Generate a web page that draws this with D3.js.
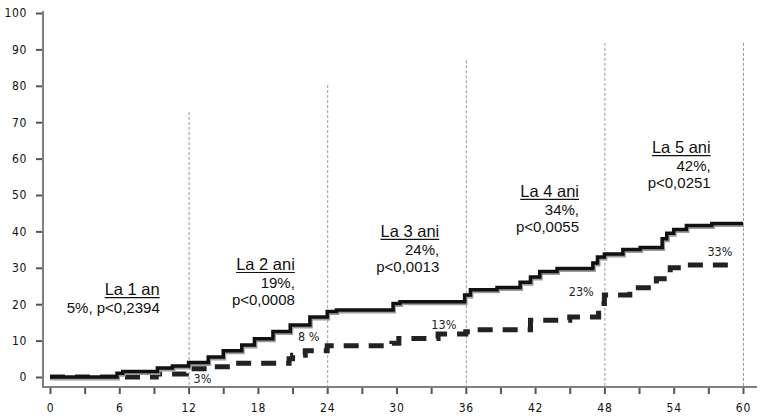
<!DOCTYPE html>
<html>
<head>
<meta charset="utf-8">
<script src="https://cdn.jsdelivr.net/npm/d3@7"></script>
<style>
body { margin: 0; background: #fff; }
.tick text { font-family: "DejaVu Sans Condensed", "DejaVu Sans", sans-serif; font-size: 12px; fill: #111; }
.ann { font-family: "Liberation Sans", Arial, sans-serif; fill: #111; }
.pct { font-family: "DejaVu Sans Condensed", "DejaVu Sans", sans-serif; font-size: 12.5px; fill: #222; }
</style>
</head>
<body>
<script>
// months since start vs cumulative % (step curves)
const solidMonths = [0, 5.8, 6.3, 9.3, 10.6, 12, 13.7, 15, 16.6, 17.7, 19.3, 20.8, 22.5, 24, 24.8, 29.7, 30.3, 35.9, 36.4, 38.7, 40.7, 41.6, 42.4, 43.9, 47, 47.4, 48, 49.6, 51.1, 53, 53.4, 54, 55.1, 57.3, 60];
const solidValues = [0, 1, 1.5, 2.5, 3, 4, 5.5, 7.2, 8.8, 10.5, 12.5, 14.3, 16.5, 18, 18.4, 20.2, 20.7, 22.5, 24, 24.6, 26, 27.5, 29, 29.8, 31.3, 33, 33.8, 35, 35.6, 38, 39.5, 40.5, 41.6, 42.2, 42.2];

const dashedMonths = [0, 9.2, 11.8, 14, 15.8, 20.7, 21, 22.1, 24, 29.6, 30.2, 33.6, 36, 37, 41.6, 45, 47.5, 48, 50.2, 52.5, 53.7, 55, 59];
const dashedValues = [0, 0.8, 2.3, 2.8, 3.8, 5, 6, 7.2, 8.6, 9.3, 10.6, 11.8, 12.4, 13, 15.6, 16.5, 20.2, 22.5, 24.5, 27, 30, 30.8, 30.8];

const xTicks = [0, 3, 6, 9, 12, 15, 18, 21, 24, 27, 30, 33, 36, 39, 42, 45, 48, 51, 54, 57, 60];
const xLabels = [0, 6, 12, 18, 24, 30, 36, 42, 48, 54, 60];
const yTicks = [0, 10, 20, 30, 40, 50, 60, 70, 80, 90, 100];

const refMonths = [12, 24, 36, 48, 60];
const refTops = [72.8, 80.2, 87, 91.8, 91.8];

const annTitles = ["La 1 an", "La 2 ani", "La 3 ani", "La 4 ani", "La 5 ani"];
const annLines = [["5%, p<0,2394"], ["19%,", "p<0,0008"], ["24%,", "p<0,0013"], ["34%,", "p<0,0055"], ["42%,", "p<0,0251"]];

const pctLabels = ["3%", "8 %", "13%", "23%", "33%"];
const pctMonths = [13.2, 22.4, 34.1, 46, 58];
const pctValues = [-0.3, 11, 14.3, 23.4, 34.6];

function main(){
    const width = 763;
    const height = 418;

    const svg = d3.select("body").append("svg")
        .attr("width", width)
        .attr("height", height);

    const x = d3.scaleLinear().domain([0, 60]).range([50, 743]);
    const y = d3.scaleLinear().domain([0, 100]).range([377, 13]);
    const axisY = 387;
    const axisX = 43;

    // reference lines at each year
    svg.selectAll(".ref")
        .data(refMonths)
        .enter().append("line")
        .attr("x1", d => x(d) + 0.5).attr("x2", d => x(d) + 0.5)
        .attr("y1", (d, i) => y(refTops[i]))
        .attr("y2", axisY)
        .attr("stroke", "#9a9a9a")
        .attr("stroke-width", 1)
        .attr("stroke-dasharray", "3,2");

    // axes
    const yAxis = d3.axisLeft(y).tickValues(yTicks).tickSize(7).tickPadding(9).tickSizeOuter(0);
    const gy = svg.append("g").attr("transform", `translate(${axisX},0)`).call(yAxis);
    gy.select(".domain").remove();
    gy.selectAll(".tick line").attr("stroke", "#555").attr("stroke-width", 2);
    gy.selectAll(".tick text").attr("letter-spacing", "0.6px");

    const xAxis = d3.axisBottom(x).tickValues(xTicks).tickSize(7).tickPadding(9).tickSizeOuter(0)
        .tickFormat(d => xLabels.includes(d) ? d : "");
    const gx = svg.append("g").attr("transform", `translate(0,${axisY})`).call(xAxis);
    gx.select(".domain").remove();
    gx.selectAll(".tick line").attr("stroke", "#555").attr("stroke-width", 2);
    gx.selectAll(".tick text").attr("letter-spacing", "0.8px");

    svg.append("line")
        .attr("x1", axisX).attr("x2", axisX).attr("y1", 11).attr("y2", axisY + 1)
        .attr("stroke", "#808080").attr("stroke-width", 2);
    svg.append("line")
        .attr("x1", axisX).attr("x2", 757).attr("y1", axisY).attr("y2", axisY)
        .attr("stroke", "#808080").attr("stroke-width", 2);

    const solid = solidMonths.map((m, i) => [m, solidValues[i]]);
    const dashed = dashedMonths.map((m, i) => [m, dashedValues[i]]);

    const line = d3.line()
        .x(d => x(d[0]))
        .y(d => y(d[1]))
        .curve(d3.curveStepAfter);

    // dashed curve
    svg.append("path")
        .datum(dashed)
        .attr("d", line)
        .attr("fill", "none")
        .attr("stroke", "#222")
        .attr("stroke-width", 5)
        .attr("stroke-dasharray", "15,10");

    // solid curve with grey halo
    svg.append("path")
        .datum(solid)
        .attr("d", line)
        .attr("transform", "translate(1,1.5)")
        .attr("fill", "none")
        .attr("stroke", "#9c9c9c")
        .attr("stroke-width", 4);
    svg.append("path")
        .datum(solid)
        .attr("d", line)
        .attr("fill", "none")
        .attr("stroke", "#111")
        .attr("stroke-width", 3.5);

    // yearly annotations, right aligned
    const annMonth = [9.5, 21.2, 33.7, 45.8, 57.2];
    const annValue = [22.5, 29.4, 38.5, 49.5, 61.5];
    annTitles.forEach(function(t, i){
        const g = svg.append("g")
            .attr("transform", `translate(${x(annMonth[i])},${y(annValue[i])})`);
        const title = g.append("text")
            .attr("class", "ann")
            .attr("text-anchor", "end")
            .attr("font-size", 16.5)
            .text(t);
        const w = title.node().getComputedTextLength();
        g.append("line")
            .attr("x1", -w).attr("x2", 0).attr("y1", 2.5).attr("y2", 2.5)
            .attr("stroke", "#111").attr("stroke-width", 1.2);
        annLines[i].forEach(function(s, j){
            g.append("text")
                .attr("class", "ann")
                .attr("text-anchor", "end")
                .attr("font-size", 15)
                .attr("y", 18 + j * 17)
                .text(s);
        });
    });

    svg.selectAll(".pct")
        .data(pctLabels)
        .enter().append("text")
        .attr("class", "pct")
        .attr("text-anchor", "middle")
        .attr("x", (d, i) => x(pctMonths[i]))
        .attr("y", (d, i) => y(pctValues[i]) + 4.5)
        .text(d => d);

    // axis title, mostly below the visible area as in the source
    svg.append("text")
        .attr("x", 555)
        .attr("y", 429)
        .attr("font-family", "Liberation Sans, Arial, sans-serif")
        .attr("font-weight", "bold")
        .attr("font-size", 15)
        .attr("fill", "#111")
        .text("Luni de la randomizare");
}
main();
</script>
</body>
</html>
